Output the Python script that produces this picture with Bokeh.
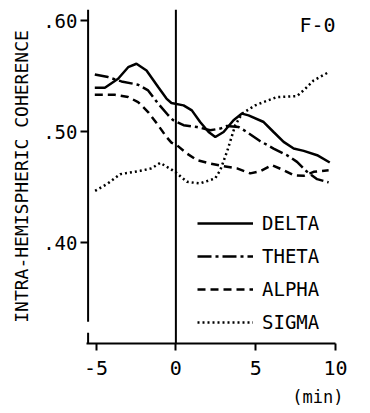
from bokeh.plotting import figure
from bokeh.models import FixedTicker, Span, Label, Legend, LegendItem, Range1d, Title
from bokeh.embed import file_html
from bokeh.resources import INLINE

# Coherence curves, time in minutes relative to onset
delta_t = [-5.08, -4.45, -3.62, -2.99, -2.47, -1.84, -1.11, -0.59, -0.28, 0.48, 1.00,
           1.52, 2.05, 2.47, 2.99, 3.61, 4.14, 4.55, 5.50, 6.12, 6.75, 7.38, 8.01, 8.85, 9.64]
delta_v = [0.5395, 0.5395, 0.5476, 0.5580, 0.5611, 0.5551, 0.5401, 0.5297, 0.5257, 0.5236, 0.5191,
           0.5086, 0.4996, 0.4951, 0.4996, 0.5102, 0.5162, 0.5146, 0.5086, 0.4996, 0.4907, 0.4847,
           0.4826, 0.4787, 0.4721]

theta_t = [-5.08, -4.25, -3.41, -2.37, -1.74, -1.11, -0.48, -0.17, 0.48, 1.32, 2.15,
           2.78, 3.20, 3.93, 4.45, 5.29, 6.12, 6.96, 7.59, 8.22, 8.85, 9.57]
theta_v = [0.5515, 0.5491, 0.5452, 0.5422, 0.5371, 0.5252, 0.5147, 0.5102, 0.5057, 0.5041, 0.5012,
           0.5027, 0.5050, 0.5041, 0.4996, 0.4913, 0.4847, 0.4787, 0.4727, 0.4637, 0.4571, 0.4542]

alpha_t = [-5.08, -3.83, -2.99, -2.37, -1.74, -1.11, -0.59, -0.28, 0.06, 0.69, 1.32,
           2.15, 2.99, 3.83, 4.66, 5.29, 6.02, 6.75, 7.38, 8.01, 8.63, 9.57]
alpha_v = [0.5332, 0.5332, 0.5311, 0.5266, 0.5176, 0.5057, 0.4951, 0.4901, 0.4877, 0.4802, 0.4742,
           0.4712, 0.4688, 0.4668, 0.4623, 0.4643, 0.4697, 0.4652, 0.4607, 0.4601, 0.4637, 0.4652]

sigma_t = [-5.06, -4.25, -3.49, -2.24, -1.53, -0.98, -0.04, 0.69, 1.52, 2.46, 2.78,
           3.20, 3.72, 4.14, 4.97, 5.50, 6.34, 7.17, 7.59, 8.11, 8.63, 9.57]
sigma_v = [0.4466, 0.4533, 0.4616, 0.4646, 0.4668, 0.4718, 0.4637, 0.4547, 0.4533, 0.4578, 0.4652,
           0.4817, 0.5057, 0.5162, 0.5236, 0.5266, 0.5311, 0.5317, 0.5320, 0.5386, 0.5461, 0.5535]

x_ticks = [-5, 0, 5, 10]
x_tick_labels = ["-5", "0", "5", "10"]
y_ticks = [0.40, 0.50, 0.60]
y_tick_labels = [".40", ".50", ".60"]

FONT = "DejaVu Sans Mono"

p = figure(width=370, height=413, output_backend="svg", toolbar_location=None,
           min_border_left=86, min_border_right=35, min_border_top=9, min_border_bottom=69,
           x_range=Range1d(-5.6, 10.0), y_range=Range1d(0.309, 0.610))
p.grid.visible = False
p.outline_line_color = None
p.background_fill_color = "white"
p.border_fill_color = "white"

# x axis
xa = p.xaxis[0]
xa.ticker = FixedTicker(ticks=x_ticks)
xa.major_label_overrides = dict(zip(x_ticks, x_tick_labels))
xa.axis_line_width = 2
xa.axis_line_color = "black"
xa.major_tick_line_width = 2
xa.major_tick_out = 7
xa.major_tick_in = 0
xa.minor_tick_line_color = None
xa.major_label_text_font = FONT
xa.major_label_text_font_size = "20px"
xa.major_label_text_line_height = 1.0
xa.major_label_text_color = "black"
xa.major_label_standoff = 10

# y axis (its line is drawn separately so that it can carry a break)
ya = p.yaxis[0]
ya.ticker = FixedTicker(ticks=y_ticks)
ya.major_label_overrides = dict(zip(y_ticks, y_tick_labels))
ya.axis_line_color = None
ya.major_tick_line_width = 2
ya.major_tick_out = 6
ya.major_tick_in = 2
ya.minor_tick_line_color = None
ya.major_label_text_font = FONT
ya.major_label_text_font_size = "19px"
ya.major_label_text_color = "black"
ya.major_label_standoff = 3
ya.axis_label = "INTRA-HEMISPHERIC COHERENCE"
ya.axis_label_text_font = FONT
ya.axis_label_text_font_size = "18px"
ya.axis_label_text_font_style = "normal"
ya.axis_label_text_color = "black"
ya.axis_label_standoff = 8

axis_x = -5.5
p.segment(x0=[axis_x, axis_x], y0=[0.309, 0.3287], x1=[axis_x, axis_x], y1=[0.3188, 0.610],
          line_color="black", line_width=2)

# onset marker
p.add_layout(Span(location=0, dimension="height", line_color="black", line_width=2))

lw = 2.5
r_delta = p.line(delta_t, delta_v, line_color="black", line_width=lw)
r_theta = p.line(theta_t, theta_v, line_color="black", line_width=lw, line_dash="14 4 3 4")
r_alpha = p.line(alpha_t, alpha_v, line_color="black", line_width=lw, line_dash="8 5")
r_sigma = p.line(sigma_t, sigma_v, line_color="black", line_width=lw, line_dash="2 3")

legend = Legend(items=[
    LegendItem(label="DELTA", renderers=[r_delta]),
    LegendItem(label="THETA", renderers=[r_theta]),
    LegendItem(label="ALPHA", renderers=[r_alpha]),
    LegendItem(label="SIGMA", renderers=[r_sigma]),
], location=(111, 10), orientation="vertical", glyph_width=56, glyph_height=20,
    label_height=20, spacing=11, padding=0, margin=0, label_standoff=9,
    border_line_color=None, background_fill_alpha=0,
    label_text_font=FONT, label_text_font_size="19px", label_text_color="black")
p.add_layout(legend)

p.add_layout(Label(x=10.0, y=0.607, text="F-0", text_font=FONT, text_font_size="20px",
                   text_baseline="top", text_align="right", text_color="black"))

# time unit under the right end of the x axis
p.add_layout(Title(text="(min)", align="right", text_font=FONT, text_font_size="17px",
                   text_font_style="normal", text_line_height=1.0, text_color="black",
                   standoff=14, offset=-8),
             "below")

open("out.html", "w").write(file_html(p, INLINE))
